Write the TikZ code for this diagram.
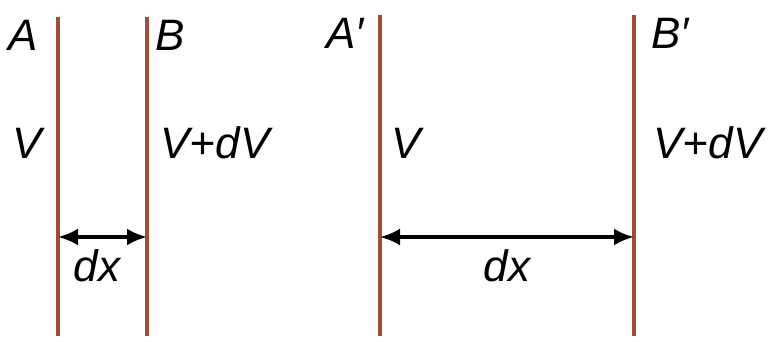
\documentclass[tikz,border=0pt]{standalone}
\usepackage{fontspec}
\setmainfont{Liberation Sans}
\usetikzlibrary{arrows.meta}
\definecolor{plate}{RGB}{160,78,55}
\begin{document}
\begin{tikzpicture}[x=1pt,y=-1pt,
  platel/.style={draw=plate,line width=3.1pt},
  lbl/.style={font=\fontsize{44}{44}\selectfont\itshape,inner sep=0pt},
  dim/.style={line width=3.6pt,{Latex[length=20pt,width=17pt]}-{Latex[length=20pt,width=17pt]}}]
\useasboundingbox (0,0) rectangle (776,342);
\coordinate (a1) at (58,17); \coordinate (a2) at (58,336);
\coordinate (b1) at (147,17); \coordinate (b2) at (147,336);
\coordinate (c1) at (380,15); \coordinate (c2) at (380,336);
\coordinate (d1) at (634,15); \coordinate (d2) at (634,336);
\draw[platel] (a1) -- (a2);
\draw[platel] (b1) -- (b2);
\draw[platel] (c1) -- (c2);
\draw[platel] (d1) -- (d2);
\coordinate (aa) at (58,237); \coordinate (bb) at (147,237);
\coordinate (cc) at (380,237); \coordinate (dd) at (634,237);
\draw[dim] (aa) -- (bb);
\draw[dim] (cc) -- (dd);
\node[lbl] (A) at (23,35) {A};
\node[lbl] (B) at (170,35) {B};
\node[lbl] (Ap) at (345,33) {A′};
\node[lbl] (Bp) at (670,33) {B′};
\node[lbl] (V1) at (27,143) {V};
\node[lbl] (V2) at (215,143) {V+dV};
\node[lbl] (V3) at (406,143) {V};
\node[lbl] (V4) at (708,143) {V+dV};
\node[lbl] (dx1) at (97,266) {dx};
\node[lbl] (dx2) at (507,266) {dx};
\end{tikzpicture}
\end{document}
